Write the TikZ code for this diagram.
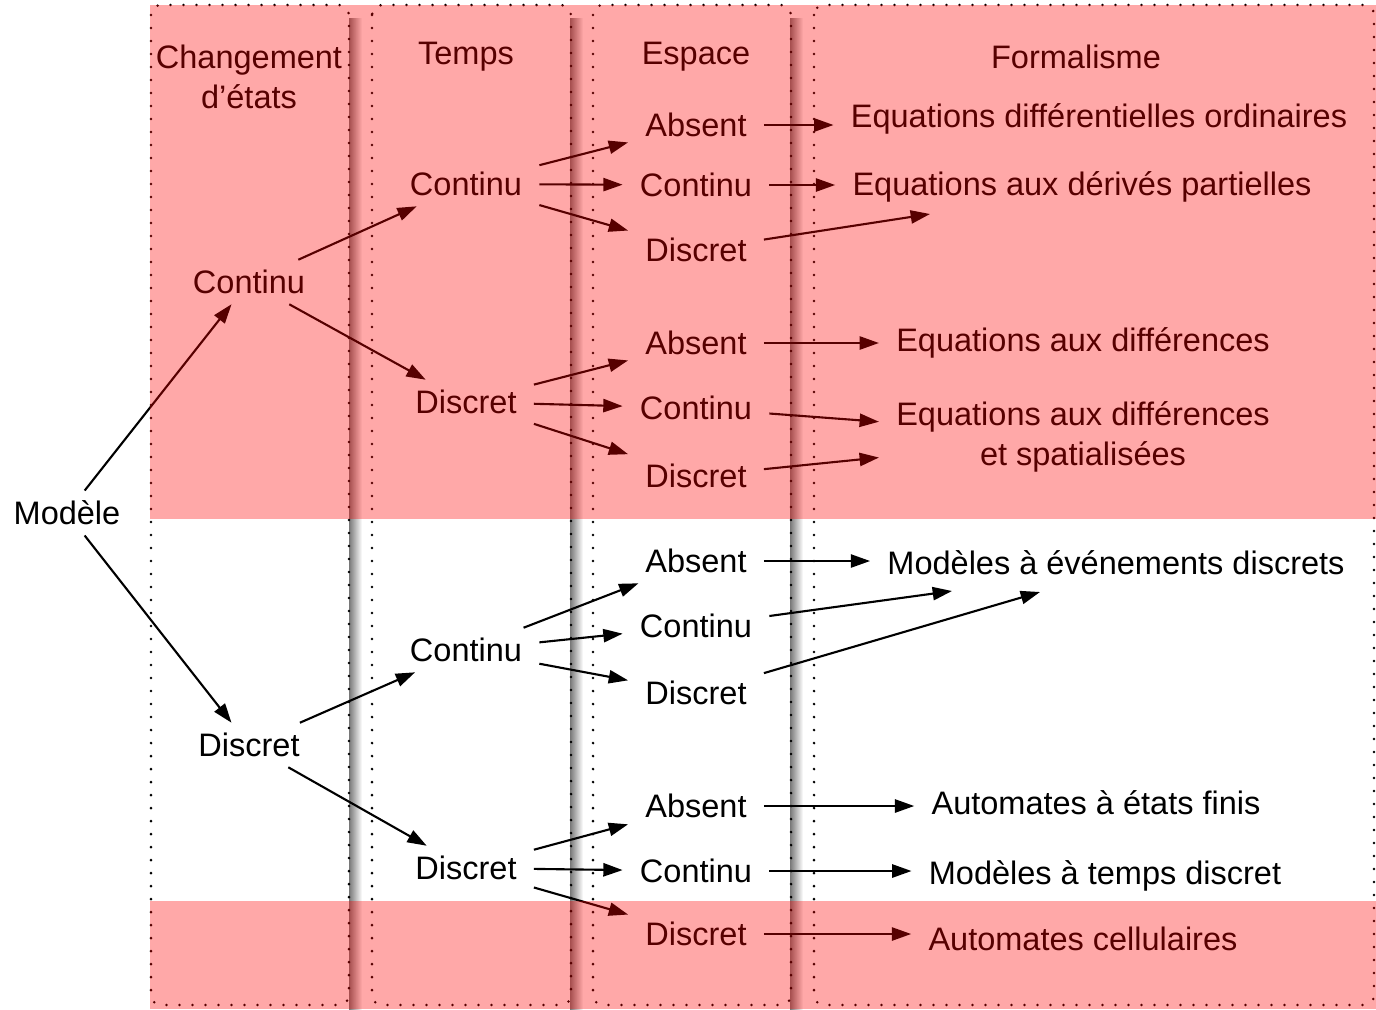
\documentclass[tikz,border=0pt]{standalone}
\usepackage{fontspec}
\setmainfont{Liberation Sans}
\usetikzlibrary{arrows.meta}
\definecolor{shadowgray}{RGB}{120, 120, 120}

\tikzset{
  lbl/.style={font=\fontsize{18.5}{23}\selectfont, align=center, inner xsep=0.34cm, inner ysep=0.2cm},
  arr/.style={-{Triangle[length=11pt,width=7.5pt]}, line width=1.2pt},
  colbox/.style={line width=1.6pt, line cap=round, dash pattern=on 0pt off 7.4pt, rounded corners=0.2cm},
  colshade/.style={left color=shadowgray, right color=white, draw=none},
  overlay/.style={fill=red, opacity=0.34, draw=none}
}

\begin{document}
\begin{tikzpicture}[x=0.02cm, y=-0.02cm]
    \useasboundingbox (0, 0) rectangle (1376, 1009);

    % Shadows of the columns
    \shade[colshade] (349, 18) rectangle (362, 1009);
    \shade[colshade] (570, 18) rectangle (583, 1009);
    \shade[colshade] (790, 18) rectangle (803, 1009);

    % Columns
    \draw[colbox] (151, 5) rectangle (349, 1005);
    \draw[colbox] (372, 5) rectangle (571, 1005);
    \draw[colbox] (593, 5) rectangle (791, 1005);
    \draw[colbox] (814, 5) rectangle (1374, 1005);

    % Headers
    \node[lbl] (hEtat) at (249, 77) {Changement\\d'états};
    \node[lbl] (hTemps) at (466, 57) {Temps};
    \node[lbl] (hEspace) at (696, 57) {Espace};
    \node[lbl] (hForm) at (1076, 57) {Formalisme};

    % Changement d'etats
    \node[lbl] (mod) at (67, 513) {Modèle};
    \node[lbl] (sC) at (249, 282) {Continu};
    \node[lbl] (sD) at (249, 745) {Discret};

    % Temps
    \node[lbl] (tCC) at (466, 184) {Continu};
    \node[lbl] (tCD) at (466, 402) {Discret};
    \node[lbl] (tDC) at (466, 650) {Continu};
    \node[lbl] (tDD) at (466, 868) {Discret};

    % Espace
    \node[lbl] (eCCA) at (696, 125) {Absent};
    \node[lbl] (eCCC) at (696, 185) {Continu};
    \node[lbl] (eCCD) at (696, 250) {Discret};
    \node[lbl] (eCDA) at (696, 343) {Absent};
    \node[lbl] (eCDC) at (696, 408) {Continu};
    \node[lbl] (eCDD) at (696, 476) {Discret};
    \node[lbl] (eDCA) at (696, 561) {Absent};
    \node[lbl] (eDCC) at (696, 626) {Continu};
    \node[lbl] (eDCD) at (696, 693) {Discret};
    \node[lbl] (eDDA) at (696, 806) {Absent};
    \node[lbl] (eDDC) at (696, 871) {Continu};
    \node[lbl] (eDDD) at (696, 934) {Discret};

    % Formalisme
    \node[lbl] (fEDO) at (1099, 119) {Equations différentielles ordinaires};
    \node[lbl] (fEDP) at (1082, 187) {Equations aux dérivés partielles};
    \node[lbl] (fED) at (1083, 343) {Equations aux différences};
    \node[lbl] (fEDS) at (1083, 437) {Equations aux différences\\et spatialisées};
    \node[lbl] (fMED) at (1116, 563) {Modèles à événements discrets};
    \node[lbl] (fAEF) at (1096, 803) {Automates à états finis};
    \node[lbl] (fMTD) at (1105, 876) {Modèles à temps discret};
    \node[lbl] (fAC) at (1083, 939) {Automates cellulaires};

    \coordinate (pEDP) at (930, 214);
    \coordinate (pMED1) at (952, 591);
    \coordinate (pMED2) at (1040, 592);

    % Arrows
    \draw[arr] (mod) -- (sC);
    \draw[arr] (mod) -- (sD);
    \draw[arr] (sC) -- (tCC);
    \draw[arr] (sC) -- (tCD);
    \draw[arr] (sD) -- (tDC);
    \draw[arr] (sD) -- (tDD);

    \draw[arr] (tCC) -- (eCCA);
    \draw[arr] (tCC) -- (eCCC);
    \draw[arr] (tCC) -- (eCCD);
    \draw[arr] (tCD) -- (eCDA);
    \draw[arr] (tCD) -- (eCDC);
    \draw[arr] (tCD) -- (eCDD);
    \draw[arr] (tDC) -- (eDCA);
    \draw[arr] (tDC) -- (eDCC);
    \draw[arr] (tDC) -- (eDCD);
    \draw[arr] (tDD) -- (eDDA);
    \draw[arr] (tDD) -- (eDDC);
    \draw[arr] (tDD) -- (eDDD);

    \draw[arr] (eCCA) -- (eCCA -| fEDO.west);
    \draw[arr] (eCCC) -- (eCCC -| fEDP.west);
    \draw[arr] (eCCD) -- (pEDP);
    \draw[arr] (eCDA) -- (eCDA -| fED.west);
    \draw[arr] (eCDC) -- (fEDS);
    \draw[arr] (eCDD) -- (fEDS);
    \draw[arr] (eDCA) -- (eDCA -| fMED.west);
    \draw[arr] (eDCC) -- (pMED1);
    \draw[arr] (eDCD) -- (pMED2);
    \draw[arr] (eDDA) -- (eDDA -| fAEF.west);
    \draw[arr] (eDDC) -- (eDDC -| fMTD.west);
    \draw[arr] (eDDD) -- (eDDD -| fAC.west);

    % Pink bands
    \fill[overlay] (150, 5) rectangle (1376, 519);
    \fill[overlay] (150, 901) rectangle (1376, 1009);
\end{tikzpicture}
\end{document}
